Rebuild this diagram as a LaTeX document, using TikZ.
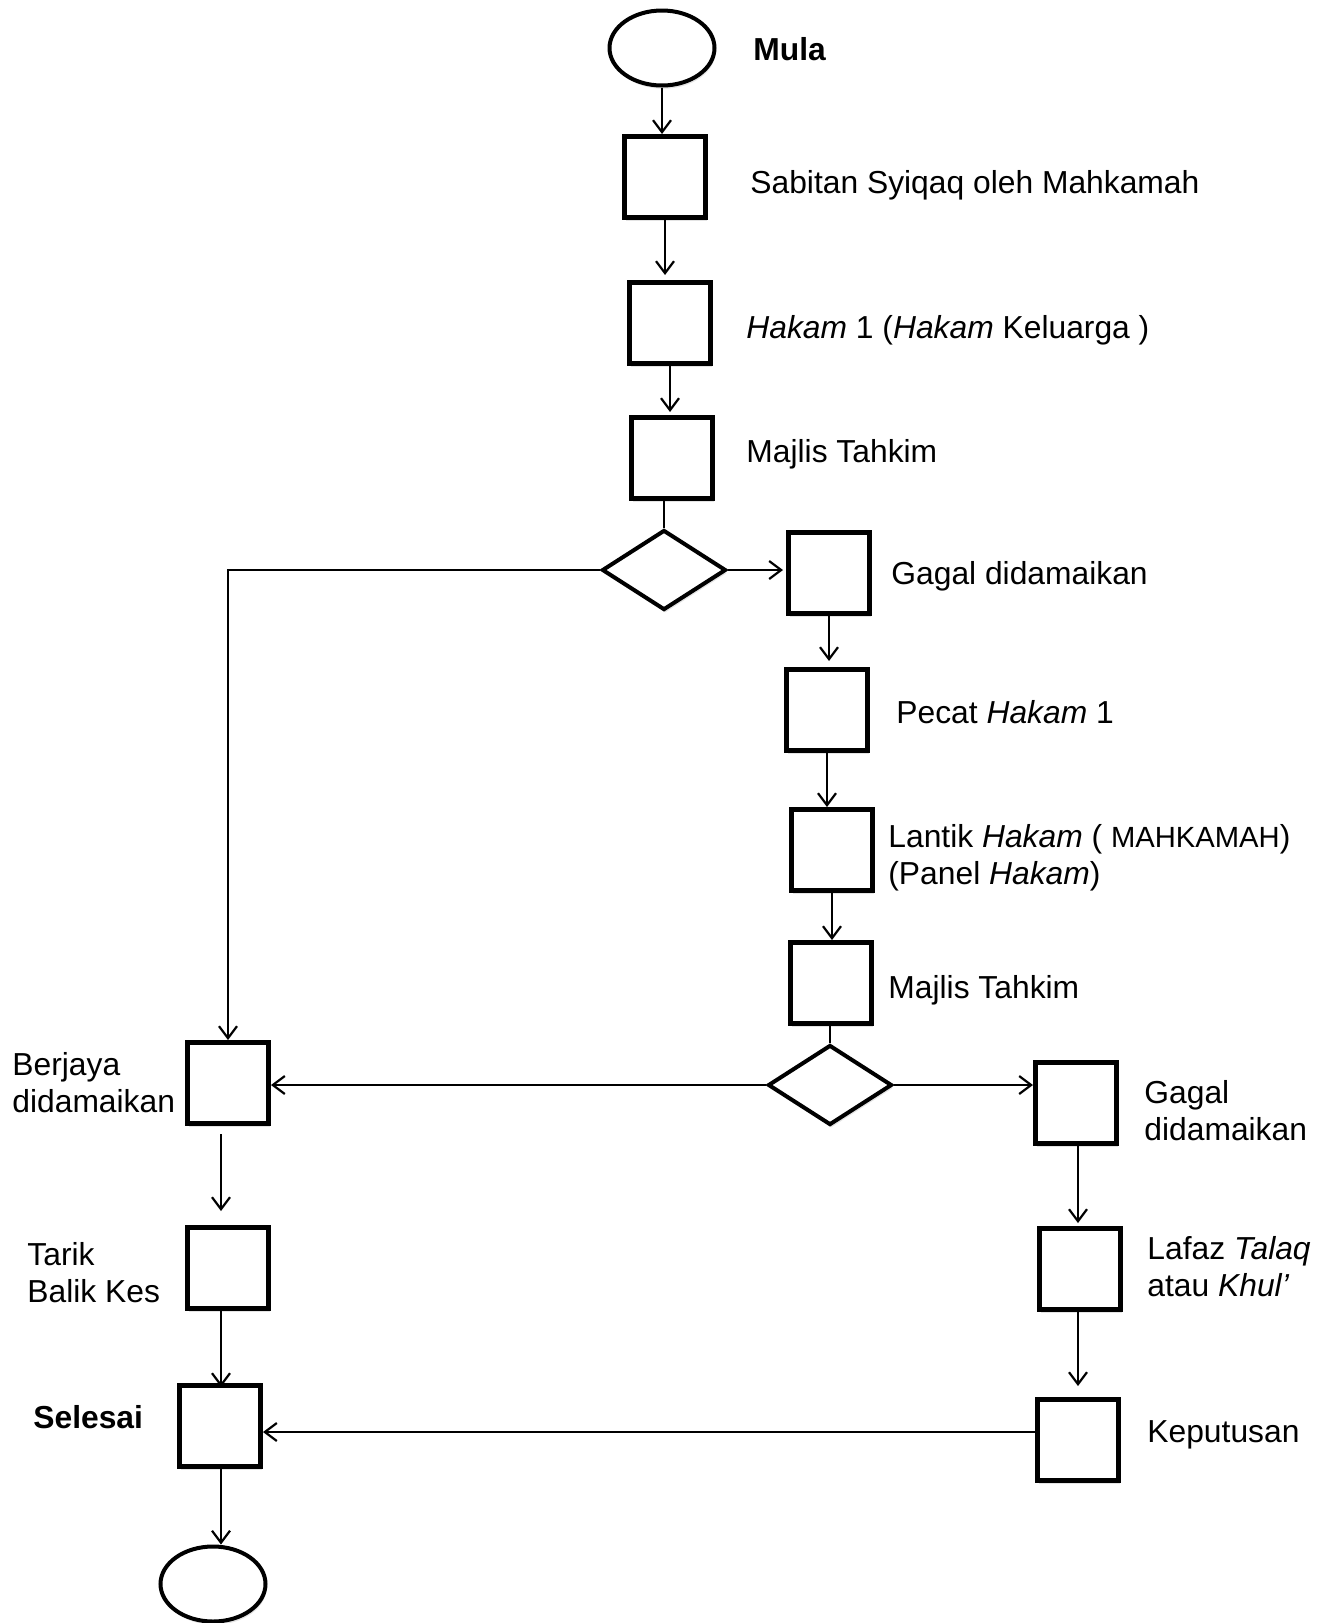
\documentclass[tikz,border=0pt]{standalone}
\usepackage{fontspec}
\setmainfont{Liberation Sans}
\usetikzlibrary{shapes.geometric,arrows.meta,shadows}
\begin{document}
\begin{tikzpicture}[x=0.5pt,y=-0.5pt,
  shad/.style={drop shadow={shadow xshift=0.6pt, shadow yshift=-1.6pt, opacity=0.22}},
  box/.style={draw, line width=2.5pt, minimum size=40.5pt, inner sep=0pt, fill=white, shad},
  dia/.style={diamond, draw, line width=2pt, minimum width=62pt, minimum height=40pt, inner sep=0pt, fill=white, shad},
  term/.style={ellipse, draw, line width=2pt, minimum width=52.5pt, minimum height=37.5pt, inner sep=0pt, fill=white, shad},
  arr/.style={line width=1.1pt, -{Straight Barb[length=6pt,width=9pt]}},
  ln/.style={line width=1.1pt},
  lbl/.style={anchor=base west, inner sep=0pt, font=\fontsize{15.9}{18.5}\selectfont, align=left}
]
\useasboundingbox (0,0) rectangle (1335,1623);

% nodes
\node[term] (e1) at (662,48) {};
\node[box] (b1) at (665,177) {};
\node[box] (b2) at (670,323) {};
\node[box] (b3) at (672,458) {};
\node[dia] (d1) at (664,570) {};
\node[box] (b4) at (829,573) {};
\node[box] (b5) at (827,710) {};
\node[box] (b6) at (832,850) {};
\node[box] (b7) at (831,983) {};
\node[dia] (d2) at (830,1085) {};
\node[box] (bB) at (228,1083) {};
\node[box] (bT) at (228,1268) {};
\node[box] (bS) at (220,1426) {};
\node[term] (e2) at (213,1584) {};
\node[box] (bG) at (1076,1103) {};
\node[box] (bL) at (1080,1269) {};
\node[box] (bK) at (1078,1440) {};
\coordinate (colL) at (221,0);
\coordinate (colR) at (1078,0);
\coordinate (rowK) at (0,1432);

% labels (multi-line labels are placed by the baseline of their last line)
\node[lbl] (tMula) at (753,60) {\textbf{Mula}};
\node[lbl] (t1) at (750,193) {Sabitan Syiqaq oleh Mahkamah};
\node[lbl] (t2) at (746,338) {\textit{Hakam} 1 (\textit{Hakam} Keluarga )};
\node[lbl] (t3) at (746,462) {Majlis Tahkim};
\node[lbl] (t4) at (891,584) {Gagal didamaikan};
\node[lbl] (t5) at (896,723) {Pecat \textit{Hakam} 1};
\node[lbl] (t6) at (888,884) {Lantik \textit{Hakam} ( {\fontsize{14.6}{18.5}\selectfont MAHKAMAH})\\(Panel \textit{Hakam})};
\node[lbl] (t7) at (888,998) {Majlis Tahkim};
\node[lbl] (tB) at (12,1112) {Berjaya\\didamaikan};
\node[lbl] (tG) at (1144,1140) {Gagal\\didamaikan};
\node[lbl] (tT) at (27,1302) {Tarik\\Balik Kes};
\node[lbl] (tL) at (1147,1296) {Lafaz \textit{Talaq}\\atau \textit{Khul’}};
\node[lbl] (tS) at (33,1428) {\textbf{Selesai}};
\node[lbl] (tK) at (1147,1442) {Keputusan};

% connectors
\draw[arr] (e1) -- (e1 |- b1.north);
\draw[arr, shorten >=2.5pt] (b1) -- (b1 |- b2.north);
\draw[arr, shorten >=1.5pt] (b2) -- (b2 |- b3.north);
\draw[ln] (d1.north) -- (d1.north |- b3.south);
\draw[arr, shorten >=1.5pt] (d1.east) -- (b4.west |- d1.east);
\draw[arr] (d1.west) -| (bB.north);
\draw[arr, shorten >=3pt] (b4) -- (b4 |- b5.north);
\draw[arr] (b5) -- (b5 |- b6.north);
\draw[arr] (b6) -- (b6 |- b7.north);
\draw[ln] (d2.north) -- (d2.north |- b7.south);
\draw[arr] (d2.west) -- (bB.east |- d2.west);
\draw[arr] (d2.east) -- (bG.west |- d2.east);
\draw[arr, shorten <=4pt, shorten >=7pt] (bB.south -| colL) -- (bT.north -| colL);
\draw[arr, shorten >=-2pt] (bT.south -| colL) -- (bS.north -| colL);
\draw[arr] (bS.south -| colL) -- (e2.north -| colL);
\draw[arr, shorten >=1.5pt] (bG.south -| colR) -- (bL.north -| colR);
\draw[arr, shorten >=5.5pt] (bL.south -| colR) -- (bK.north -| colR);
\draw[arr] (bK.west |- rowK) -- (bS.east |- rowK);
\end{tikzpicture}
\end{document}
